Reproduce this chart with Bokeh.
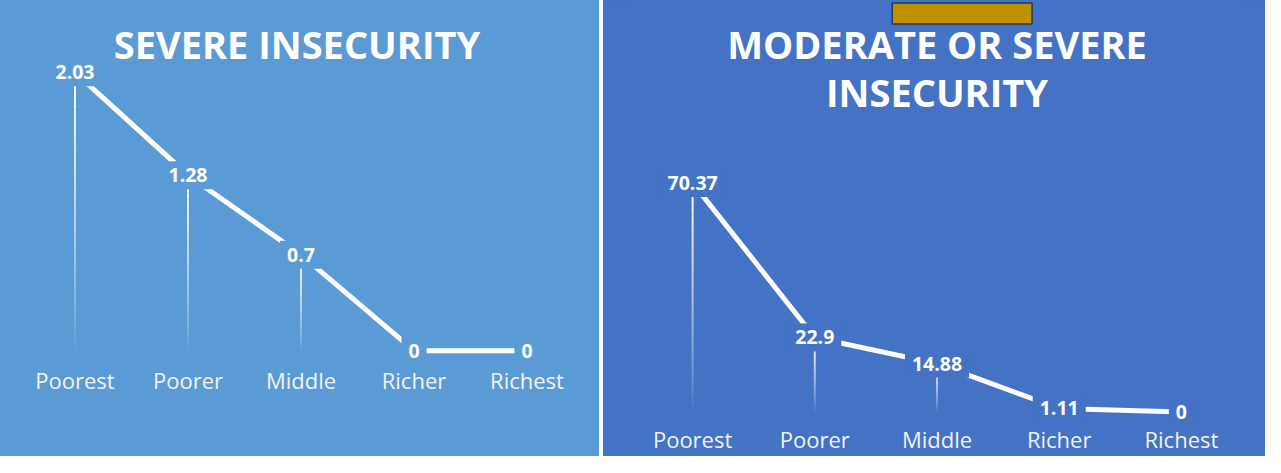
from bokeh.plotting import figure
from bokeh.models import FactorRange, Range1d
from bokeh.layouts import row
from bokeh.core.properties import value
from bokeh.embed import file_html
from bokeh.resources import INLINE

# ---------------- data ----------------
categories = ["Poorest", "Poorer", "Middle", "Richer", "Richest"]
severe = [2.03, 1.28, 0.7, 0, 0]
moderate_or_severe = [70.37, 22.9, 14.88, 1.11, 0]
severe_labels = ["2.03", "1.28", "0.7", "0", "0"]
moderate_labels = ["70.37", "22.9", "14.88", "1.11", "0"]
title_left = ["SEVERE INSECURITY"]
title_right = ["MODERATE OR SEVERE", "INSECURITY"]

# ---------------- style / layout ----------------
H = 456
FRAME_BOTTOM = 433          # shared by both panels (row aligns frames)
FONT = "Open Sans"
LEFT_BG = "#5B9BD5"
RIGHT_BG = "#4472C4"


def panel(values, labels, title_lines, bg, width, b_left, b_right,
          zero_px, top_px, title_baselines_px, standoff,
          title_size, title_xoff=0):
    vmax = max(values)
    scale = (zero_px - top_px) / vmax          # pixels per unit
    y_end = vmax + top_px / scale
    y_start = -(FRAME_BOTTOM - zero_px) / scale

    def ypx(py):
        return y_end - py / scale

    p = figure(width=width, height=H,
               x_range=FactorRange(*categories),
               y_range=Range1d(y_start, y_end),
               output_backend="svg", toolbar_location=None,
               y_axis_location=None,
               min_border_left=b_left, min_border_right=b_right,
               min_border_top=0, min_border_bottom=H - FRAME_BOTTOM,
               styles={"background-color": bg})
    p.background_fill_color = bg
    p.border_fill_color = bg
    p.outline_line_color = None
    p.grid.grid_line_color = None

    ax = p.xaxis[0]
    ax.axis_line_color = None
    ax.major_tick_line_color = None
    ax.minor_tick_line_color = None
    ax.major_tick_out = 0
    ax.major_label_text_font = FONT
    ax.major_label_text_font_size = "22px"
    ax.major_label_text_color = "#f2f2f2"
    ax.major_label_standoff = standoff

    # gradient drop lines (fade towards the axis)
    N = 30
    xs, y0s, y1s, al = [], [], [], []
    for c, v in zip(categories, values):
        if v <= 0:
            continue
        for k in range(N):
            xs.append(c)
            y0s.append(v * (1 - k / N))
            y1s.append(v * (1 - (k + 1) / N))
            al.append(1.0 * (1 - (k + 0.5) / N) ** 0.8)
    p.segment(x0=xs, y0=y0s, x1=xs, y1=y1s, line_color="white",
              line_alpha=al, line_width=2)

    p.line(categories, values, line_color="white", line_width=5)

    p.text(x=categories, y=values, text=labels,
           text_align="center", text_baseline="middle",
           text_font=value(FONT), text_font_style="bold",
           text_font_size="19.5px", text_color="white",
           background_fill_color=bg, padding=7)

    mid = categories[len(categories) // 2]
    p.text(x=[mid] * len(title_lines),
           y=[ypx(b) for b in title_baselines_px],
           text=title_lines, text_align="center",
           text_baseline="alphabetic", x_offset=title_xoff,
           text_font=value(FONT), text_font_style="bold",
           text_font_size=title_size, text_color="white")
    return p, ypx


left, _ = panel(severe, severe_labels, title_left, LEFT_BG,
                width=599, b_left=18, b_right=16,
                zero_px=351, top_px=72,
                title_baselines_px=[44], standoff=-68,
                title_size="38px", title_xoff=-4)

right, ypx_r = panel(moderate_or_severe, moderate_labels, title_right, RIGHT_BG,
                     width=662, b_left=28, b_right=23,
                     zero_px=412.5, top_px=182.8,
                     title_baselines_px=[44, 92], standoff=-9,
                     title_size="38px")

# decorative gold box at top of right panel (pixel geometry -> data)
frame_left_px, cat_w = 28, 611 / 5
bx0, bx1 = 899.7 - 611, 1039.6 - 611
right.quad(left=[(bx0 - frame_left_px) / cat_w], right=[(bx1 - frame_left_px) / cat_w],
           top=[ypx_r(2.5)], bottom=[ypx_r(23.5)],
           fill_color="#BF9000", line_color="#1F3864", line_width=1.5)

layout = row(left, right, spacing=4)

with open("out.html", "w") as f:
    f.write(file_html(layout, INLINE))
